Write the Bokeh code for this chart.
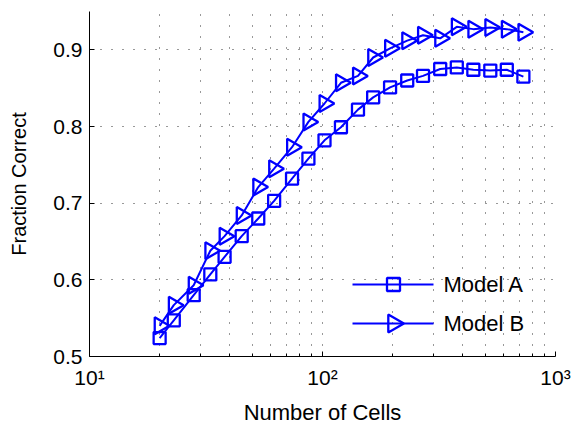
import math
from bokeh.plotting import figure
from bokeh.models import (FixedTicker, CustomJSTickFormatter, Range1d, Label,
                          LinearScale)
from bokeh.embed import file_html
from bokeh.resources import INLINE

# ---- data ----
cells = [20, 23, 28, 33, 38, 45, 53, 62, 74, 87, 102, 120, 142, 165, 195,
         231, 270, 320, 377, 444, 525, 618, 728]
model_a = [0.524, 0.547, 0.580, 0.607, 0.630, 0.657, 0.680, 0.703, 0.732,
           0.758, 0.782, 0.799, 0.822, 0.838, 0.851, 0.860, 0.866, 0.875,
           0.877, 0.874, 0.873, 0.874, 0.865]
model_b = [0.540, 0.567, 0.593, 0.638, 0.657, 0.684, 0.721, 0.745, 0.773,
           0.806, 0.830, 0.857, 0.866, 0.890, 0.902, 0.912, 0.919, 0.915,
           0.930, 0.927, 0.929, 0.927, 0.923]
labels = ["Model A", "Model B"]
x_major = [10, 100, 1000]
x_minor = [20, 30, 40, 50, 60, 70, 80, 90, 200, 300, 400, 500, 600, 700, 800, 900]
y_ticks = [0.5, 0.6, 0.7, 0.8, 0.9]
x_label = "Number of Cells"
y_label = "Fraction Correct"

FONT = "Liberation Sans"
BLUE = "#0000ff"
W, H = 572, 428
ML, MR, MT, MB = 89, 17, 11, 72
FW, FH = W - ML - MR, H - MT - MB

p = figure(width=W, height=H, x_axis_type="log", x_range=(10, 1000),
           y_range=(0.5, 0.95), output_backend="svg", toolbar_location=None,
           min_border_left=ML, min_border_right=MR, min_border_top=MT,
           min_border_bottom=MB)
p.outline_line_color = None
p.background_fill_color = "white"
p.border_fill_color = "white"

p.line(cells, model_a, line_color=BLUE, line_width=2)
p.scatter(cells, model_a, marker="square", size=12, line_color=BLUE,
          line_width=2.3, fill_color=None)
p.line(cells, model_b, line_color=BLUE, line_width=2)
p.scatter(cells, model_b, marker="triangle", angle=-math.pi / 2, size=17,
          line_color=BLUE, line_width=2.3, fill_color=None)

# ---- legend (drawn in frame pixel units so the triangle can point right) ----
p.extra_x_ranges = {"lx": Range1d(0, FW)}
p.extra_y_ranges = {"ly": Range1d(0, FH)}
p.extra_x_scales = {"lx": LinearScale()}
p.extra_y_scales = {"ly": LinearScale()}
leg_y = [72, 33]
leg_markers = [("square", 0.0, 13), ("triangle", -math.pi / 2, 18)]
for lab, yy, (mk, ang, sz) in zip(labels, leg_y, leg_markers):
    p.line([263, 344], [yy, yy], line_color=BLUE, line_width=2,
           x_range_name="lx", y_range_name="ly")
    p.scatter([304], [yy], marker=mk, angle=ang, size=sz, line_color=BLUE,
              line_width=2.3, fill_color=None, x_range_name="lx", y_range_name="ly")
    p.add_layout(Label(x=354, y=yy, text=lab, x_range_name="lx", y_range_name="ly",
                       text_font=FONT, text_font_size="22px", text_color="black",
                       text_baseline="middle", text_align="left"))

# ---- axes ----
p.xaxis.ticker = FixedTicker(ticks=x_major, minor_ticks=x_minor)
p.xaxis.formatter = CustomJSTickFormatter(code="""
const sup = {1: '\\u00b9', 2: '\\u00b2', 3: '\\u00b3'};
const e = Math.round(Math.log10(tick));
return '10' + (sup[e] || String(e));
""")
p.yaxis.ticker = FixedTicker(ticks=y_ticks, minor_ticks=[])
for ax in (p.xaxis[0], p.yaxis[0]):
    ax.axis_line_color = "black"
    ax.axis_line_width = 1
    ax.major_tick_in = 5
    ax.major_tick_out = 0
    ax.minor_tick_in = 3
    ax.minor_tick_out = 0
    ax.major_tick_line_color = "black"
    ax.minor_tick_line_color = "black"
    ax.major_label_text_font = FONT
    ax.major_label_text_font_size = "21px"
    ax.major_label_text_color = "black"
    ax.axis_label_text_font = FONT
    ax.axis_label_text_font_style = "normal"
    ax.axis_label_text_color = "black"
p.xaxis.axis_label = x_label
p.yaxis.axis_label = y_label
p.xaxis.axis_label_text_font_size = "22px"
p.yaxis.axis_label_text_font_size = "20px"
p.xaxis.major_label_standoff = 9
p.yaxis.major_label_standoff = 7
p.xaxis.axis_label_standoff = 8
p.yaxis.axis_label_standoff = 20

# ---- dotted grid ----
p.xgrid.grid_line_color = "black"
p.xgrid.grid_line_dash = "1 10"
p.xgrid.grid_line_alpha = 0.8
p.xgrid.minor_grid_line_color = "black"
p.xgrid.minor_grid_line_dash = "1 10"
p.xgrid.minor_grid_line_alpha = 0.8
p.ygrid.grid_line_color = "black"
p.ygrid.grid_line_dash = "1 10"
p.ygrid.grid_line_alpha = 0.8

open("out.html", "w", encoding="utf-8").write(file_html(p, INLINE))
